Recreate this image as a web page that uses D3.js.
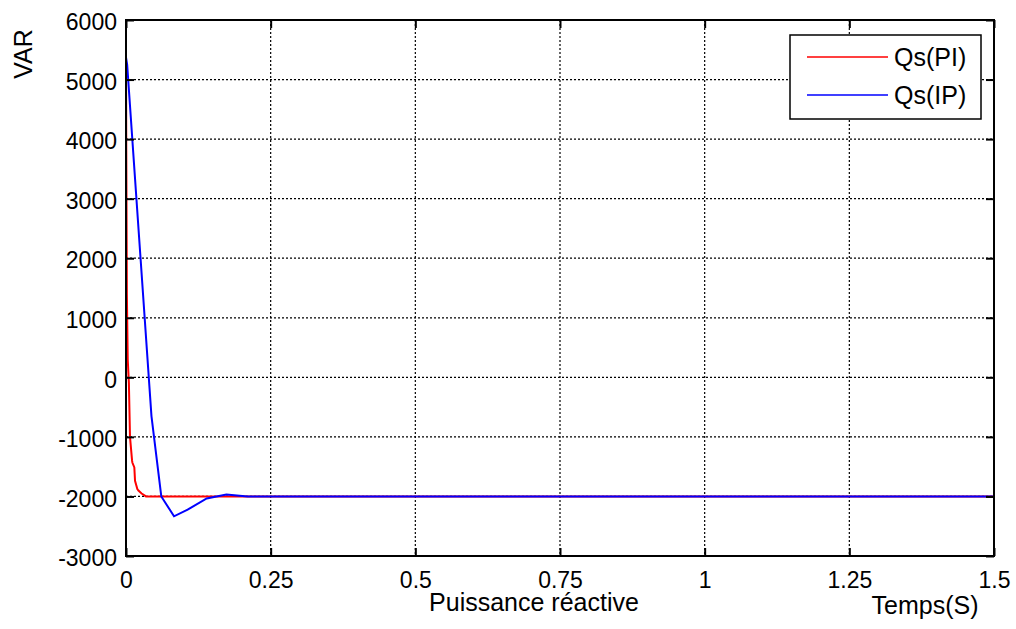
<!DOCTYPE html>
<html lang="fr">
<head>
<meta charset="UTF-8">
<title>Puissance réactive</title>
<script src="https://d3js.org/d3.v7.min.js"></script>
<style>
  body { margin: 0; background: #fff; }
  text { font-family: "Liberation Sans", Arial, sans-serif; fill: #000; }
</style>
</head>
<body>
<script>
// data
var tPI = [0, 0.0005, 0.0015, 0.003, 0.005, 0.0069, 0.0105, 0.011, 0.0144, 0.0156, 0.0196, 0.0215, 0.027, 0.0346, 1.5];
var qPI = [5300, 3800, 1400, 300, -100, -1000, -1400, -1430, -1513, -1736, -1876, -1900, -1950, -2000, -2000];

var tIP = [0, 0.002, 0.044, 0.061, 0.083, 0.1065, 0.1395, 0.1735, 0.21, 1.5];
var qIP = [5370, 5250, -650, -2000, -2333, -2222, -2033, -1967, -2000, -2000];

var xTicks = [0, 0.25, 0.5, 0.75, 1, 1.25, 1.5];
var xTickLabels = ["0", "0.25", "0.5", "0.75", "1", "1.25", "1.5"];
var yTicks = [-3000, -2000, -1000, 0, 1000, 2000, 3000, 4000, 5000, 6000];

var seriesNames = ["Qs(PI)", "Qs(IP)"];
var seriesColors = ["#ff0000", "#0000ff"];

var W = 1016, H = 629;
var mLeft = 126, mTop = 20, pw = 868, ph = 536;

var svg = d3.select("body").append("svg")
    .attr("width", W)
    .attr("height", H);

var x = d3.scaleLinear().domain([0, 1.5]).range([mLeft, mLeft + pw]);
var y = d3.scaleLinear().domain([-3000, 6000]).range([mTop + ph, mTop]);

// dotted grid
var grid = svg.append("g");
grid.selectAll(".gx").data(xTicks.slice(1, -1)).enter().append("line")
    .attr("x1", d => x(d)).attr("x2", d => x(d))
    .attr("y1", mTop).attr("y2", mTop + ph)
    .attr("stroke", "#000").attr("stroke-width", 1.2)
    .attr("stroke-dasharray", "2,2");
grid.selectAll(".gy").data(yTicks.slice(1, -1)).enter().append("line")
    .attr("x1", mLeft).attr("x2", mLeft + pw)
    .attr("y1", d => y(d)).attr("y2", d => y(d))
    .attr("stroke", "#000").attr("stroke-width", 1.2)
    .attr("stroke-dasharray", "2,2");

// curves
var line = d3.line().x(d => x(d[0])).y(d => y(d[1]));
var dataPI = tPI.map((t, i) => [t, qPI[i]]);
var dataIP = tIP.map((t, i) => [t, qIP[i]]);

svg.append("path").datum(dataPI)
    .attr("d", line).attr("fill", "none")
    .attr("stroke", seriesColors[0]).attr("stroke-width", 2);
svg.append("path").datum(dataIP)
    .attr("d", line).attr("fill", "none")
    .attr("stroke", seriesColors[1]).attr("stroke-width", 2);

// axes, ticks inward on all four sides
var tl = 8;
svg.append("g").attr("transform", "translate(0," + (mTop + ph) + ")")
    .call(d3.axisBottom(x).tickValues(xTicks).tickSize(-tl).tickPadding(16)
        .tickFormat((d, i) => xTickLabels[i]))
    .call(g => g.select(".domain").remove());
svg.append("g").attr("transform", "translate(0," + mTop + ")")
    .call(d3.axisTop(x).tickValues(xTicks).tickSize(-tl).tickFormat(""))
    .call(g => g.select(".domain").remove());
svg.append("g").attr("class", "yax").attr("transform", "translate(" + mLeft + ",0)")
    .call(d3.axisLeft(y).tickValues(yTicks).tickSize(-tl).tickPadding(9)
        .tickFormat(d => String(d)))
    .call(g => g.select(".domain").remove());
svg.append("g").attr("transform", "translate(" + (mLeft + pw) + ",0)")
    .call(d3.axisRight(y).tickValues(yTicks).tickSize(-tl).tickFormat(""))
    .call(g => g.select(".domain").remove());

svg.selectAll(".tick line").attr("stroke", "#000").attr("stroke-width", 2);
svg.selectAll(".tick text")
    .style("font-size", "23px")
    .style("font-family", "Liberation Sans, Arial, sans-serif");
svg.selectAll(".yax .tick text").attr("dy", "0.42em");

svg.append("rect")
    .attr("x", mLeft).attr("y", mTop)
    .attr("width", pw).attr("height", ph)
    .attr("fill", "none").attr("stroke", "#000").attr("stroke-width", 2);

// labels
svg.append("text")
    .attr("transform", "translate(32,54) rotate(-90)")
    .attr("text-anchor", "middle")
    .style("font-size", "25px")
    .text("VAR");
svg.append("text")
    .attr("x", 534).attr("y", 611)
    .attr("text-anchor", "middle")
    .style("font-size", "25px")
    .text("Puissance réactive");
svg.append("text")
    .attr("x", 925).attr("y", 614)
    .attr("text-anchor", "middle")
    .style("font-size", "25px")
    .text("Temps(S)");

// legend
var lg = svg.append("g");
lg.append("rect")
    .attr("x", 790).attr("y", 35).attr("width", 191).attr("height", 84)
    .attr("fill", "#fff").attr("stroke", "#000").attr("stroke-width", 1.5);
var rows = lg.selectAll(".row").data(seriesNames).enter().append("g")
    .attr("transform", (d, i) => "translate(0," + (57 + i * 38) + ")");
rows.append("line")
    .attr("x1", 807).attr("x2", 888)
    .attr("stroke", (d, i) => seriesColors[i]).attr("stroke-width", 1.5);
rows.append("text")
    .attr("x", 894).attr("dy", "0.35em")
    .style("font-size", "25px")
    .text(d => d);
</script>
</body>
</html>
